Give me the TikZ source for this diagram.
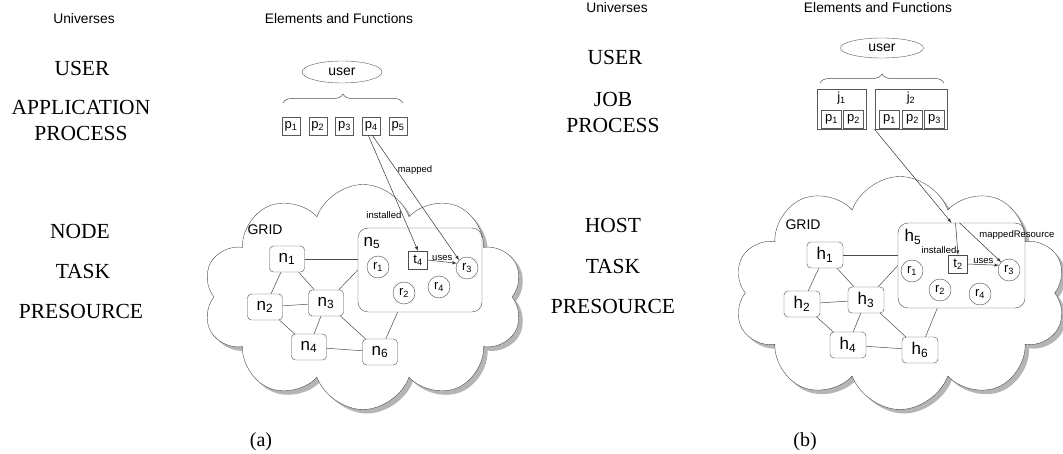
\documentclass[tikz,border=0pt]{standalone}
\usepackage{fontspec}
\setmainfont{Liberation Serif}
\setsansfont{Liberation Sans}
\usetikzlibrary{shapes,shadows,decorations.pathreplacing,calc,arrows}

\tikzset{
  univ/.style={font=\fontsize{21.5}{26}\selectfont, align=center, inner sep=0pt},
  head/.style={font=\sffamily\fontsize{13.8}{16}\selectfont, inner sep=0pt},
  usr/.style={draw=gray!70!black, ellipse, minimum width=80pt, minimum height=22pt, inner sep=0pt, font=\sffamily\fontsize{14}{16}\selectfont},
  proc/.style={draw=gray!70!black, minimum width=18pt, minimum height=18pt, inner sep=0pt, font=\sffamily\fontsize{13}{15}\selectfont},
  job/.style={draw=gray!70!black, line width=0.8pt, minimum height=40pt, inner sep=0pt},
  gridcloud/.style={cloud, cloud puffs=10, cloud puff arc=140, cloud ignores aspect, draw=gray!60!black, fill=white,
    drop shadow={shadow xshift=4pt, shadow yshift=-4pt, fill=gray!85!black}},
  gridlbl/.style={font=\sffamily\fontsize{14}{16}\selectfont, inner sep=0pt},
  host/.style={draw=gray!60!black, fill=white, rounded corners=4pt, minimum width=35pt, minimum height=26pt, inner sep=0pt, font=\sffamily\fontsize{17}{19}\selectfont},
  hostbox/.style={draw=gray!60!black, rounded corners=10pt, inner sep=0pt},
  hostlbl/.style={font=\sffamily\fontsize{17}{19}\selectfont, inner sep=0pt},
  res/.style={draw=gray!60!black, circle, minimum size=22pt, inner sep=0pt, font=\sffamily\fontsize{13}{15}\selectfont},
  task/.style={draw=gray!60!black, minimum width=19pt, minimum height=18pt, inner sep=0pt, font=\sffamily\fontsize{13}{15}\selectfont},
  lbl/.style={font=\sffamily\fontsize{9.5}{11}\selectfont, inner sep=1pt},
  link/.style={draw=gray!60!black, line width=0.5pt},
  map/.style={-latex, draw=black!80, line width=0.5pt},
  subcap/.style={font=\fontsize{20}{22}\selectfont, inner sep=0pt}
}

\begin{document}
\begin{tikzpicture}[x=1pt, y=-1pt]
    \useasboundingbox (0,0) rectangle (1063,454);

    % (a)
    \node[head] (univa) at (84,19) {Universes};
    \node[head] (elema) at (339,19) {Elements and Functions};
    \node[univ] (usera) at (82,68) {USER};
    \node[univ] (appa) at (81,120) {APPLICATION\\PROCESS};
    \node[univ] (nodea) at (80,231) {NODE};
    \node[univ] (taska) at (83,271) {TASK};
    \node[univ] (resa) at (81,311) {PRESOURCE};

    \node[usr] (user) at (342,72) {user};
    \draw[link, decorate, decoration={brace, amplitude=9pt}] (283,103) -- (403,103);
    \foreach \i [evaluate=\i as \x using 291+26.75*(\i-1)] in {1,...,5}
        \node[proc] (p\i) at (\x,126) {p\textsubscript{\i}};

    \node[gridcloud, minimum width=320pt, minimum height=225pt] (clouda) at (363,297) {};
    \node[gridlbl] (grida) at (265,230) {GRID};
    \node[hostbox, minimum width=124pt, minimum height=84pt] (n5) at (420,270) {};
    \node[hostlbl] (n5lbl) at (372,243) {n\textsubscript{5}};
    \node[host] (n1) at (287,259) {n\textsubscript{1}};
    \node[host] (n2) at (265,307) {n\textsubscript{2}};
    \node[host] (n3) at (326,303) {n\textsubscript{3}};
    \node[host] (n4) at (309,347) {n\textsubscript{4}};
    \node[host] (n6) at (380,352) {n\textsubscript{6}};
    \node[res] (r1) at (378,267) {r\textsubscript{1}};
    \node[res] (r2) at (404,293) {r\textsubscript{2}};
    \node[res] (r3) at (467,268) {r\textsubscript{3}};
    \node[res] (r4) at (439,287) {r\textsubscript{4}};
    \node[task] (t4) at (418,260) {t\textsubscript{4}};

    \draw[link] (n1.east) -- (n1.east -| n5.west);
    \draw[link] (n1) -- (n2) (n1) -- (n3) (n2) -- (n3) (n2) -- (n4) (n3) -- (n4) (n3) -- (n6) (n4) -- (n6);
    \draw[link] (n3) -- (n5.west);
    \draw[link] (n6) -- ($(n5.south west)!0.32!(n5.south east)$);

    \draw[map] ([xshift=-3pt]p4.south) -- (t4.north) node[lbl, pos=0.69, left] {installed};
    \draw[map] ([xshift=1pt]p4.south) -- (r3.north west) node[lbl, pos=0.28, right] {mapped};
    \draw[map] (t4.east) -- (r3.155) node[lbl, midway, above] {uses};

    \node[subcap] (capa) at (261,442) {(a)};

    % (b)
    \node[head] (univb) at (617,8) {Universes};
    \node[head] (elemb) at (878,8) {Elements and Functions};
    \node[univ] (userb) at (615,57) {USER};
    \node[univ] (jobb) at (613,112) {JOB\\PROCESS};
    \node[univ] (hostb) at (613,225) {HOST};
    \node[univ] (taskb) at (613,266) {TASK};
    \node[univ] (resb) at (613,306) {PRESOURCE};

    \node[usr, minimum width=83pt, minimum height=20pt] (userj) at (882,48) {user};
    \draw[link, decorate, decoration={brace, amplitude=9pt}] (820,83) -- (944,83);
    \node[job, minimum width=49pt, label={[proc, draw=none, anchor=north, inner sep=2pt]north:j\textsubscript{1}}] (j1) at (841.5,109) {};
    \node[job, minimum width=72pt, label={[proc, draw=none, anchor=north, inner sep=2pt]north:j\textsubscript{2}}] (j2) at (911,109) {};
    \node[proc, minimum width=20pt] (jp11) at (831.5,119) {p\textsubscript{1}};
    \node[proc, minimum width=20pt] (jp12) at (853.5,119) {p\textsubscript{2}};
    \node[proc, minimum width=20pt] (jp21) at (889.5,119) {p\textsubscript{1}};
    \node[proc, minimum width=20pt] (jp22) at (912.5,119) {p\textsubscript{2}};
    \node[proc, minimum width=20pt] (jp23) at (934.5,119) {p\textsubscript{3}};

    \node[gridcloud, minimum width=332pt, minimum height=233pt] (cloudb) at (900,293) {};
    \node[gridlbl] (gridb) at (803,225) {GRID};
    \node[hostbox, minimum width=127pt, minimum height=85pt] (h5) at (961.5,265.5) {};
    \node[hostlbl] (h5lbl) at (913,237) {h\textsubscript{5}};
    \node[host, minimum width=36pt] (h1) at (825,255) {h\textsubscript{1}};
    \node[host, minimum width=36pt] (h2) at (802,304) {h\textsubscript{2}};
    \node[host, minimum width=36pt] (h3) at (866,300) {h\textsubscript{3}};
    \node[host, minimum width=36pt] (h4) at (848,345) {h\textsubscript{4}};
    \node[host, minimum width=36pt] (h6) at (920,350) {h\textsubscript{6}};
    \node[res] (rb1) at (912,271) {r\textsubscript{1}};
    \node[res] (rb2) at (940,290) {r\textsubscript{2}};
    \node[res] (rb3) at (1009,270) {r\textsubscript{3}};
    \node[res] (rb4) at (980,294) {r\textsubscript{4}};
    \node[task] (t2) at (958,264) {t\textsubscript{2}};

    \draw[link] (h1.east) -- (h1.east -| h5.west);
    \draw[link] (h1) -- (h2) (h1) -- (h3) (h2) -- (h3) (h2) -- (h4) (h3) -- (h4) (h3) -- (h6) (h4) -- (h6);
    \draw[link] (h3) -- (h5.west);
    \draw[link] (h6) -- ($(h5.south west)!0.31!(h5.south east)$);

    \draw[map] (j2.south west) -- ([xshift=-10pt]h5.north);
    \draw[map] ([xshift=-6pt]h5.north) -- (t2.north) node[lbl, pos=0.85, left=0pt] {installed};
    \draw[map] ([xshift=-2pt]h5.north) -- (rb3.north west) node[lbl, pos=0.45, above right=0pt] {mappedResource};
    \draw[map] (t2.east) -- (rb3.155) node[lbl, midway, above] {uses};

    \node[subcap] (capb) at (805,442) {(b)};
\end{tikzpicture}
\end{document}
